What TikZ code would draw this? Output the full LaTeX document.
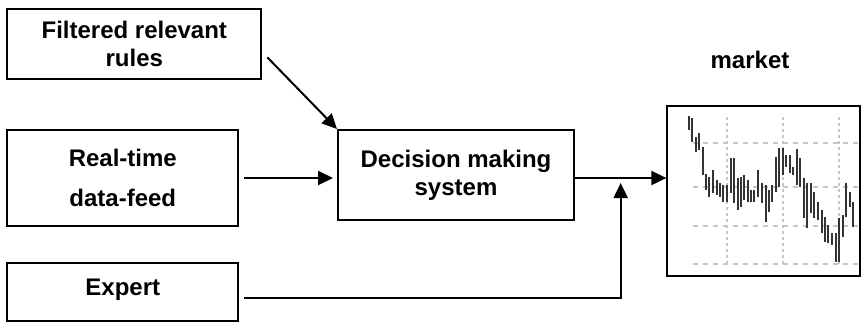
\documentclass[tikz,border=0pt]{standalone}
\usepackage{fontspec}
\setmainfont{Liberation Sans}
\usetikzlibrary{positioning,arrows.meta,calc}
\tikzset{
  flowarrow/.style={-{Triangle[length=15pt,width=14pt]}, line width=2pt},
  flowline/.style={line width=2pt},
  boxnode/.style={draw, line width=2pt, inner sep=0pt, align=center},
  gridline/.style={gray!45, line width=1.2pt, dash pattern=on 5pt off 5pt},
  gridvline/.style={gray!45, line width=1.2pt, dash pattern=on 3pt off 3pt},
  pricebar/.style={black!80, line width=2.2pt}
}

\begin{document}
\begin{tikzpicture}[x=1pt, y=-1pt, every node/.style={font=\fontsize{24}{28}\selectfont\bfseries}]
  \useasboundingbox (0,0) rectangle (861,322);
  % input boxes
  \node[boxnode, minimum width=254pt, minimum height=70pt] (rules) at (134.3,44.3) {Filtered relevant\\rules};
  \node[boxnode, minimum width=231pt, minimum height=96pt] (feed) at (122.8,178) {Real-time\\[12pt]data-feed};
  \node[boxnode, minimum width=231pt, minimum height=57.7pt] (expert) at (122.8,292) {\raisebox{9pt}{Expert}};
  \node[boxnode, minimum width=236pt, minimum height=90pt] (dms) at (456,175) {Decision making\\system};
  % market chart
  \node[boxnode, minimum width=192.7pt, minimum height=170pt] (mkt) at (763.7,190.7) {};
  \node (mktlabel) at (750,60) {market};
  \foreach \gx in {727,783,839}
    \draw[gridvline] (\gx,117) -- (\gx,265);
  \foreach \gy in {143,187,226,264}
    \draw[gridline] (693,\gy) -- (858,\gy);
  \foreach \bx/\bt/\bb in {689/116/130, 692/118/142, 696/137/152, 699/133/150, 703/147/175,
      706/174/190, 709/177/197, 713/170/193, 717/180/195, 720/183/197, 723/185/202,
      727/185/202, 731/158/193, 734/158/203, 738/178/210, 741/177/207, 744/175/200,
      748/180/202, 751/190/202, 754/190/202, 758/170/197, 762/183/203, 766/185/222,
      769/190/212, 772/185/202, 776/157/192, 779/148/187, 783/148/175, 786/155/167,
      790/155/173, 793/167/175, 797/149/185, 800/158/187, 804/178/218, 807/183/228,
      811/183/213, 814/192/218, 818/202/220, 822/210/233, 825/217/242, 828/225/243,
      832/233/245, 836/233/262, 839/218/262, 843/215/237, 846/183/217, 850/192/207,
      853/202/227}
    \draw[pricebar] (\bx,\bt) -- (\bx,\bb);
  % connectors
  \coordinate (join) at ($(dms.east)!0.5!(mkt.west)$);
  \draw[flowarrow] ([shift={(5,13)}]rules.east) -- (dms.north west);
  \draw[flowarrow, shorten >=4pt] ([xshift=5pt]feed.east) -- (feed.east -| dms.west);
  \draw[flowarrow] (dms.east |- feed.east) -- (mkt.west |- feed.east);
  \draw[flowarrow, shorten >=1pt] ([xshift=5pt,yshift=-6pt]expert.east) -| ([yshift=-4pt]join |- feed.east);
\end{tikzpicture}
\end{document}
